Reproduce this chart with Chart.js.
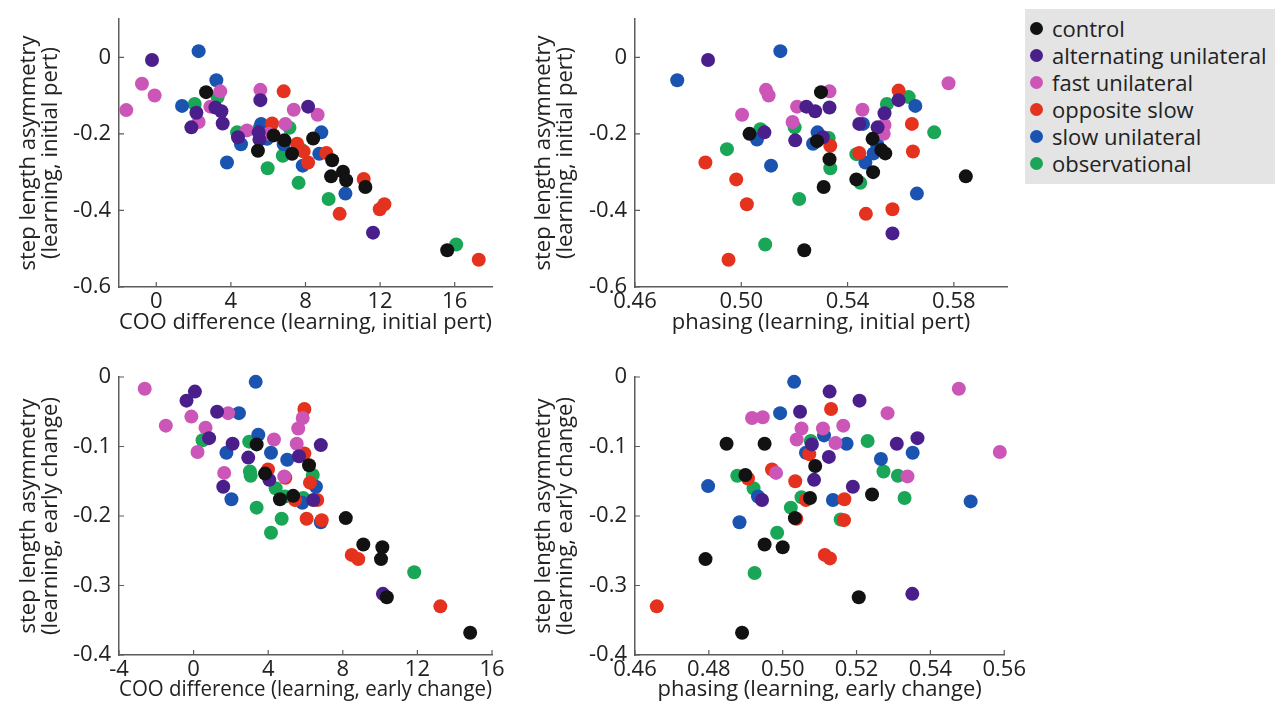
<!DOCTYPE html>
<html>
<head>
<meta charset="utf-8">
<script src="https://cdn.jsdelivr.net/npm/chart.js@4.4.0/dist/chart.umd.min.js"></script>
<style>
  body { margin: 0; background: #fff; width: 1286px; height: 708px; position: relative; overflow: hidden; font-family: 'Open Sans', sans-serif; }
  canvas { position: absolute; }
  #legend { position: absolute; left: 1025px; top: 9px; width: 250px; height: 175px; background: #e4e4e4; box-sizing: border-box; padding-top: 6px; }
  .item { height: 27px; line-height: 27px; font-size: 22px; color: #222; white-space: nowrap; position: relative; padding-left: 27px; }
  .dot { position: absolute; left: 5px; top: 7px; width: 13px; height: 13px; border-radius: 50%; }
</style>
</head>
<body>
<canvas id="p1" width="515" height="345" style="left:0;top:0"></canvas>
<canvas id="p2" width="515" height="345" style="left:515px;top:0"></canvas>
<canvas id="p3" width="515" height="363" style="left:0;top:345px"></canvas>
<canvas id="p4" width="515" height="363" style="left:515px;top:345px"></canvas>
<div id="legend"></div>
<script>
const groups = ['control', 'alternating unilateral', 'fast unilateral', 'opposite slow', 'slow unilateral', 'observational'];
const groupColors = ['#121212', '#4a1f8c', '#cc55b8', '#e4321e', '#1a54b0', '#1aa657'];

// each panel: one list of [x, y] per group, same order as groups
const cooInit = [
    [[2.67,-0.091],[5.45,-0.244],[6.29,-0.204],[6.87,-0.217],[7.28,-0.252],[8.41,-0.212],[9.43,-0.269],[9.37,-0.311],[10.01,-0.299],[10.18,-0.321],[11.21,-0.339],[15.6,-0.504]],
    [[-0.23,-0.007],[1.88,-0.183],[2.15,-0.145],[3.17,-0.131],[3.49,-0.141],[3.56,-0.173],[5.58,-0.112],[4.38,-0.209],[5.49,-0.196],[5.53,-0.215],[8.14,-0.129],[11.62,-0.458]],
    [[-1.61,-0.138],[-0.77,-0.069],[-0.09,-0.100],[2.27,-0.169],[2.9,-0.129],[3.43,-0.089],[5.58,-0.085],[7.37,-0.137],[8.65,-0.150],[4.86,-0.191],[6.03,-0.200],[6.92,-0.174]],
    [[6.83,-0.089],[6.21,-0.173],[7.55,-0.226],[7.9,-0.246],[8.14,-0.275],[9.12,-0.250],[11.12,-0.318],[9.83,-0.409],[11.98,-0.397],[12.23,-0.384],[17.29,-0.529]],
    [[2.27,0.016],[1.38,-0.127],[3.22,-0.060],[3.79,-0.275],[4.54,-0.227],[5.62,-0.174],[5.94,-0.213],[6.83,-0.227],[8.85,-0.196],[8.74,-0.252],[7.85,-0.283],[10.14,-0.356]],
    [[2.06,-0.122],[3.29,-0.104],[4.33,-0.196],[5.53,-0.185],[7.14,-0.184],[6.78,-0.257],[7.73,-0.240],[5.97,-0.290],[7.63,-0.328],[9.24,-0.370],[16.08,-0.489]]
];
const phaseInit = [
    [[0.5031,-0.200],[0.5300,-0.091],[0.5285,-0.219],[0.5332,-0.266],[0.5310,-0.339],[0.5237,-0.504],[0.5433,-0.319],[0.5494,-0.213],[0.5496,-0.300],[0.5527,-0.242],[0.5542,-0.251],[0.5845,-0.311]],
    [[0.4875,-0.007],[0.5087,-0.196],[0.5203,-0.217],[0.5245,-0.129],[0.5278,-0.141],[0.5332,-0.131],[0.5307,-0.209],[0.5444,-0.174],[0.5513,-0.183],[0.5539,-0.146],[0.5592,-0.112],[0.5569,-0.460]],
    [[0.5003,-0.150],[0.5093,-0.085],[0.5103,-0.100],[0.5210,-0.129],[0.5193,-0.169],[0.5332,-0.089],[0.5456,-0.137],[0.5539,-0.177],[0.5536,-0.200],[0.5780,-0.068]],
    [[0.4865,-0.275],[0.4981,-0.319],[0.5021,-0.384],[0.4952,-0.529],[0.5335,-0.231],[0.5444,-0.250],[0.5469,-0.409],[0.5569,-0.397],[0.5592,-0.087],[0.5642,-0.174],[0.5646,-0.246]],
    [[0.4759,-0.060],[0.5147,0.016],[0.5059,-0.215],[0.5112,-0.283],[0.5270,-0.226],[0.5287,-0.196],[0.5458,-0.174],[0.5467,-0.275],[0.5498,-0.251],[0.5511,-0.227],[0.5655,-0.127],[0.5661,-0.356]],
    [[0.4946,-0.240],[0.5072,-0.188],[0.5201,-0.183],[0.5218,-0.370],[0.5090,-0.489],[0.5329,-0.211],[0.5335,-0.290],[0.5433,-0.253],[0.5448,-0.328],[0.5548,-0.122],[0.5630,-0.104],[0.5726,-0.196]]
];
const cooEarly = [
    [[3.38,-0.097],[3.83,-0.139],[4.63,-0.176],[5.34,-0.171],[6.19,-0.127],[8.16,-0.203],[9.1,-0.241],[10.12,-0.245],[10.05,-0.262],[10.36,-0.317],[14.83,-0.368]],
    [[-0.38,-0.034],[0.07,-0.021],[0.83,-0.088],[1.26,-0.050],[2.09,-0.096],[1.59,-0.158],[2.93,-0.116],[4.06,-0.148],[5.65,-0.114],[6.42,-0.177],[6.82,-0.098],[10.15,-0.312]],
    [[-2.62,-0.017],[-1.49,-0.070],[-0.12,-0.057],[0.21,-0.108],[0.64,-0.073],[1.85,-0.052],[1.64,-0.138],[4.31,-0.090],[4.86,-0.143],[5.53,-0.096],[5.61,-0.074],[5.85,-0.059]],
    [[5.94,-0.046],[5.94,-0.110],[3.99,-0.133],[4.92,-0.145],[6.24,-0.152],[5.44,-0.177],[6.63,-0.177],[6.06,-0.204],[6.87,-0.206],[8.48,-0.256],[8.83,-0.262],[13.23,-0.330]],
    [[3.33,-0.007],[2.43,-0.052],[3.47,-0.083],[1.76,-0.109],[2.03,-0.176],[4.15,-0.109],[5.02,-0.119],[5.83,-0.181],[6.56,-0.158],[6.82,-0.209]],
    [[0.48,-0.091],[2.98,-0.093],[3.02,-0.136],[3.06,-0.142],[3.38,-0.188],[4.4,-0.160],[4.9,-0.172],[5.88,-0.174],[6.39,-0.141],[4.72,-0.204],[4.15,-0.224],[11.83,-0.281]]
];
const phaseEarly = [
    [[0.4848,-0.096],[0.4951,-0.096],[0.4899,-0.141],[0.5088,-0.128],[0.5074,-0.174],[0.5033,-0.203],[0.4951,-0.241],[0.5000,-0.245],[0.4791,-0.262],[0.5242,-0.169],[0.5206,-0.317],[0.4890,-0.368]],
    [[0.5127,-0.021],[0.5208,-0.034],[0.5047,-0.050],[0.5079,-0.097],[0.5125,-0.115],[0.5085,-0.148],[0.5190,-0.158],[0.4944,-0.177],[0.5309,-0.096],[0.5365,-0.088],[0.5351,-0.312]],
    [[0.4917,-0.059],[0.4946,-0.058],[0.5051,-0.074],[0.5109,-0.074],[0.5164,-0.070],[0.5038,-0.090],[0.5143,-0.095],[0.4982,-0.138],[0.5284,-0.052],[0.5338,-0.143],[0.5477,-0.017],[0.5588,-0.108]],
    [[0.5131,-0.046],[0.5072,-0.111],[0.4971,-0.133],[0.4906,-0.146],[0.5034,-0.150],[0.5063,-0.177],[0.5167,-0.176],[0.5037,-0.204],[0.5166,-0.206],[0.5114,-0.256],[0.5128,-0.261],[0.4659,-0.330]],
    [[0.5031,-0.007],[0.4993,-0.052],[0.5112,-0.084],[0.5173,-0.096],[0.5063,-0.109],[0.4798,-0.157],[0.4933,-0.172],[0.4883,-0.209],[0.5136,-0.177],[0.5266,-0.118],[0.5352,-0.109],[0.5509,-0.179]],
    [[0.5076,-0.092],[0.5230,-0.092],[0.4877,-0.142],[0.4921,-0.160],[0.5051,-0.173],[0.5022,-0.188],[0.5157,-0.205],[0.4985,-0.224],[0.4924,-0.282],[0.5273,-0.136],[0.5312,-0.142],[0.5330,-0.174]]
];

// axis ranges and tick values
const cooInitX = [0, 4, 8, 12, 16];
const phaseInitX = [0.46, 0.50, 0.54, 0.58];
const initY = [0, -0.2, -0.4, -0.6];
const cooEarlyX = [-4, 0, 4, 8, 12, 16];
const phaseEarlyX = [0.46, 0.48, 0.50, 0.52, 0.54, 0.56];
const earlyY = [0, -0.1, -0.2, -0.3, -0.4];

const axisColor = '#5c5c5c';
const textColor = '#222';
const font = { family: "'Open Sans', sans-serif", size: 22, lineHeight: 1.0 };

// MATLAB style ticks pointing into the plot
const innerTicks = {
    id: 'innerTicks',
    afterDraw(chart) {
        const { ctx, chartArea: a, scales: { x, y } } = chart;
        ctx.save();
        ctx.strokeStyle = axisColor;
        ctx.lineWidth = 1.2;
        ctx.beginPath();
        x.ticks.forEach(t => { const px = x.getPixelForValue(t.value); ctx.moveTo(px, a.bottom); ctx.lineTo(px, a.bottom - 5); });
        y.ticks.forEach(t => { const py = y.getPixelForValue(t.value); ctx.moveTo(a.left, py); ctx.lineTo(a.left + 5, py); });
        ctx.stroke();
        ctx.restore();
    }
};

function makePanel(id, data, x, y, box) {
    new Chart(document.getElementById(id), {
        type: 'scatter',
        data: {
            datasets: groups.map((g, i) => ({
                label: g,
                data: data[i],
                backgroundColor: groupColors[i],
                borderWidth: 0,
                pointRadius: 7,
                pointHoverRadius: 7,
                clip: false
            }))
        },
        options: {
            responsive: false,
            animation: false,
            layout: { padding: { top: box.top, right: box.right, left: 0, bottom: 0 } },
            plugins: { legend: { display: false }, tooltip: { enabled: false } },
            scales: {
                x: {
                    type: 'linear', min: x.min, max: x.max,
                    afterBuildTicks: s => { s.ticks = x.ticks.map(v => ({ value: v })); },
                    afterFit: s => { s.height = box.xh; },
                    grid: { drawOnChartArea: false, drawTicks: false },
                    border: { color: axisColor, width: 1.5 },
                    ticks: { color: textColor, font, padding: 4, maxRotation: 0, callback: x.fmt },
                    title: { display: true, text: x.title, color: textColor, font, padding: { top: 0, bottom: box.xtp } }
                },
                y: {
                    type: 'linear', min: y.min, max: y.max,
                    afterBuildTicks: s => { s.ticks = y.ticks.map(v => ({ value: v })); },
                    afterFit: s => { s.width = box.yw; },
                    grid: { drawOnChartArea: false, drawTicks: false },
                    border: { color: axisColor, width: 1.5 },
                    ticks: { color: textColor, font, padding: 8, callback: v => String(v) },
                    title: { display: true, text: y.title, color: textColor, font, padding: { top: 18, bottom: 0 } }
                }
            }
        },
        plugins: [innerTicks]
    });
}

const plain = v => String(v);
const two = v => v.toFixed(2);
const yInit = ['step length asymmetry', '(learning, initial pert)'];
const yEarly = ['step length asymmetry', '(learning, early change)'];

makePanel('p1', cooInit,
    { min: -2, max: 18, ticks: cooInitX, fmt: plain, title: 'COO difference (learning, initial pert)' },
    { min: -0.6, max: 0.1, ticks: initY, title: yInit },
    { top: 8, right: 23, xh: 58, yw: 119, xtp: 11 });
makePanel('p2', phaseInit,
    { min: 0.46, max: 0.60, ticks: phaseInitX, fmt: two, title: 'phasing (learning, initial pert)' },
    { min: -0.6, max: 0.1, ticks: initY, title: yInit },
    { top: 8, right: 23, xh: 58, yw: 120, xtp: 11 });
makePanel('p3', cooEarly,
    { min: -4, max: 16, ticks: cooEarlyX, fmt: plain, title: 'COO difference (learning, early change)' },
    { min: -0.4, max: 0, ticks: earlyY, title: yEarly },
    { top: 32, right: 23, xh: 53, yw: 119, xtp: 7 });
makePanel('p4', phaseEarly,
    { min: 0.46, max: 0.56, ticks: phaseEarlyX, fmt: two, title: 'phasing (learning, early change)' },
    { min: -0.4, max: 0, ticks: earlyY, title: yEarly },
    { top: 32, right: 23, xh: 53, yw: 120, xtp: 7 });

// shared legend
document.getElementById('legend').innerHTML = groups.map((g, i) =>
    `<div class="item"><span class="dot" style="background:${groupColors[i]}"></span>${g}</div>`
).join('');
</script>
</body>
</html>
